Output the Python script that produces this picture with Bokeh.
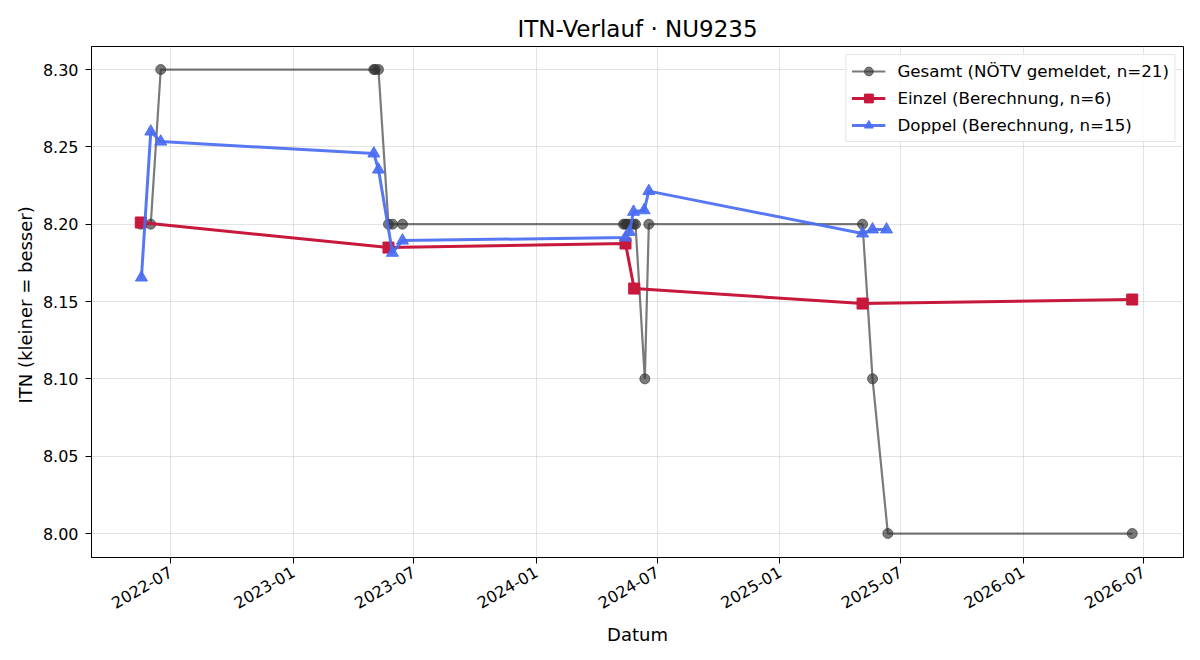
import math
import pandas as pd
from bokeh.plotting import figure
from bokeh.models import (Range1d, MonthsTicker, DatetimeTickFormatter, SingleIntervalTicker,
                          NumeralTickFormatter, Legend, LegendItem)
from bokeh.embed import file_html
from bokeh.resources import INLINE

# ---- data ----
gesamt_dates = ["2022-05-17", "2022-06-01", "2022-06-16", "2023-05-02", "2023-05-04", "2023-05-09",
                "2023-05-24", "2023-05-30", "2023-06-14", "2024-05-11", "2024-05-14", "2024-05-16",
                "2024-05-20", "2024-05-26", "2024-05-29", "2024-06-12", "2024-06-18", "2025-05-05",
                "2025-05-20", "2025-06-12", "2026-06-14"]
gesamt_itn = [8.20, 8.20, 8.30, 8.30, 8.30, 8.30,
              8.20, 8.20, 8.20, 8.20, 8.20, 8.20,
              8.20, 8.20, 8.20, 8.10, 8.20, 8.20,
              8.10, 8.00, 8.00]

einzel_dates = ["2022-05-17", "2023-05-24", "2024-05-14", "2024-05-27", "2025-05-05", "2026-06-14"]
einzel_itn = [8.2011, 8.1849, 8.1875, 8.1584, 8.1487, 8.1513]

doppel_dates = ["2022-05-18", "2022-06-01", "2022-06-16", "2023-05-02", "2023-05-09", "2023-05-30",
                "2023-06-14", "2024-05-14", "2024-05-20", "2024-05-26", "2024-06-11", "2024-06-18",
                "2025-05-05", "2025-05-20", "2025-06-10"]
doppel_itn = [8.1655, 8.2599, 8.2534, 8.2457, 8.2353, 8.1815, 8.1894, 8.1914, 8.1950, 8.2080,
              8.2090, 8.2214, 8.1940, 8.1966, 8.1966]

labels = ["Gesamt (NÖTV gemeldet, n=21)", "Einzel (Berechnung, n=6)", "Doppel (Berechnung, n=15)"]

FONT = "DejaVu Sans"

gx = pd.to_datetime(gesamt_dates)
ex = pd.to_datetime(einzel_dates)
dx = pd.to_datetime(doppel_dates)

p = figure(width=1200, height=660, x_axis_type="datetime", output_backend="svg",
           toolbar_location=None,
           x_range=Range1d(pd.Timestamp("2022-03-04"), pd.Timestamp("2026-08-30")),
           y_range=Range1d(7.9845, 8.3149),
           min_border_left=91, min_border_right=17, min_border_top=46, min_border_bottom=103)

p.title.text = "ITN-Verlauf · NU9235"
p.title.align = "center"
p.title.text_font = FONT
p.title.text_font_size = "23px"
p.title.text_font_style = "normal"
p.title.text_color = "#000000"
p.title.offset = 0
p.title.standoff = 9

p.outline_line_color = "#000000"
p.outline_line_width = 1
p.background_fill_color = "white"
p.border_fill_color = "white"

for ax in (p.xaxis[0], p.yaxis[0]):
    ax.axis_line_color = "#000000"
    ax.major_tick_line_color = "#000000"
    ax.minor_tick_line_color = None
    ax.major_tick_out = 6
    ax.major_tick_in = 0
    ax.major_label_standoff = 7
    ax.major_label_text_font = FONT
    ax.major_label_text_font_size = "16px"
    ax.major_label_text_color = "#000000"
    ax.axis_label_text_font = FONT
    ax.axis_label_text_font_size = "18px"
    ax.axis_label_text_font_style = "normal"
    ax.axis_label_text_color = "#000000"

p.xaxis.axis_label_standoff = 7
p.yaxis.axis_label_standoff = 4

p.xaxis.ticker = MonthsTicker(months=[0, 6])
p.xaxis.formatter = DatetimeTickFormatter(months="%Y-%m", years="%Y-%m", days="%Y-%m")
p.xaxis.major_label_orientation = math.pi / 6
p.xaxis.axis_label = "Datum"

p.yaxis.ticker = SingleIntervalTicker(interval=0.05, num_minor_ticks=0)
p.yaxis.formatter = NumeralTickFormatter(format="0.00")
p.yaxis.axis_label = "ITN  (kleiner = besser)"

p.xgrid.grid_line_color = "#b0b0b0"
p.ygrid.grid_line_color = "#b0b0b0"
p.xgrid.grid_line_alpha = 0.35
p.ygrid.grid_line_alpha = 0.35
p.xgrid.ticker = p.xaxis[0].ticker
p.ygrid.ticker = p.yaxis[0].ticker

# Gesamt
gl = p.line(gx, gesamt_itn, line_color="#333333", line_alpha=0.65, line_width=2.2)
gs = p.scatter(gx, gesamt_itn, marker="circle", size=10, fill_color="#333333", fill_alpha=0.65,
               line_color="#333333", line_alpha=0.65)
# Einzel
el = p.line(ex, einzel_itn, line_color="#c8183c", line_width=3)
es = p.scatter(ex, einzel_itn, marker="square", size=11, fill_color="#c8183c", line_color="#c8183c")
# Doppel
dl = p.line(dx, doppel_itn, line_color="#4a6cf2", line_alpha=0.92, line_width=3)
ds = p.scatter(dx, doppel_itn, marker="triangle", size=12, fill_color="#4a6cf2", fill_alpha=0.92,
               line_color="#4a6cf2", line_alpha=0.92)

legend = Legend(items=[LegendItem(label=labels[0], renderers=[gl, gs]),
                       LegendItem(label=labels[1], renderers=[el, es]),
                       LegendItem(label=labels[2], renderers=[dl, ds])],
                location="top_right")
legend.label_text_font = FONT
legend.label_text_font_size = "16.7px"
legend.label_text_color = "#000000"
legend.border_line_color = "#cccccc"
legend.border_line_width = 1
legend.background_fill_alpha = 0.85
legend.glyph_width = 34
legend.glyph_height = 22
legend.spacing = 5
legend.padding = 5
legend.margin = 8
legend.label_standoff = 12
p.add_layout(legend)

open("out.html", "w").write(file_html(p, INLINE))
